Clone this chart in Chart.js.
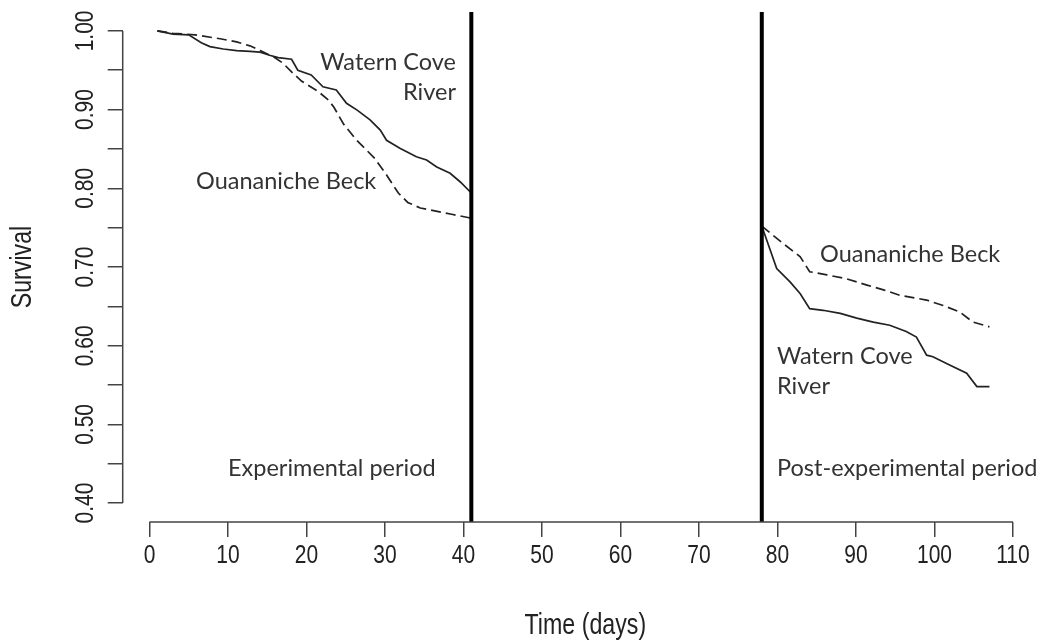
<!DOCTYPE html>
<html>
<head>
<meta charset="utf-8">
<script src="https://cdn.jsdelivr.net/npm/chart.js@4.4.1/dist/chart.umd.min.js"></script>
<style>html,body{margin:0;padding:0;background:#fff}</style>
</head>
<body>
<canvas id="grafik" width="1048" height="641"></canvas>
<script>
// Watern Cove River (garis penuh)
const hariWC1 = [1, 3, 5, 6.6, 7.7, 9.4, 11.1, 12.8, 14.1, 15.3, 16.4, 18.1, 18.9, 20.6, 22.1, 23.8, 25.1, 26.5, 28.1, 29.4, 30.2, 31.9, 34.0, 35.3, 36.6, 38.3, 39.6, 41];
const survWC1 = [1.000, 0.996, 0.995, 0.985, 0.980, 0.977, 0.975, 0.974, 0.973, 0.969, 0.966, 0.964, 0.950, 0.944, 0.929, 0.925, 0.908, 0.899, 0.887, 0.874, 0.861, 0.851, 0.840, 0.836, 0.827, 0.819, 0.808, 0.794];
const hariWC2 = [78, 79.9, 81.6, 82.9, 84.1, 85.8, 88.0, 90.1, 92.2, 94.3, 96.4, 97.7, 99.0, 99.8, 101.6, 104.1, 105.4, 107];
const survWC2 = [0.752, 0.698, 0.681, 0.666, 0.647, 0.645, 0.641, 0.635, 0.630, 0.626, 0.618, 0.611, 0.588, 0.586, 0.577, 0.565, 0.548, 0.548];

// Ouananiche Beck (garis putus)
const hariOB1 = [1, 3, 5.8, 9.0, 11.1, 12.8, 14.1, 15.8, 17.0, 18.3, 19.4, 21.5, 22.8, 23.5, 24.7, 26.3, 28.7, 30.2, 31.7, 32.9, 34.5, 36.5, 38.5, 41];
const survOB1 = [1.000, 0.997, 0.995, 0.990, 0.986, 0.981, 0.975, 0.967, 0.959, 0.946, 0.936, 0.923, 0.912, 0.903, 0.882, 0.862, 0.838, 0.817, 0.794, 0.782, 0.775, 0.771, 0.767, 0.762];
const hariOB2 = [78, 80.7, 82.9, 84.1, 86.3, 88.8, 91.4, 93.5, 95.6, 99.0, 101.1, 103.2, 104.9, 107];
const survOB2 = [0.752, 0.730, 0.713, 0.694, 0.690, 0.685, 0.677, 0.671, 0.664, 0.658, 0.651, 0.643, 0.630, 0.624];

const batasPeriode = [41, 78];
const tickX = [0, 10, 20, 30, 40, 50, 60, 70, 80, 90, 100, 110];
const tickY = [0.40, 0.45, 0.50, 0.55, 0.60, 0.65, 0.70, 0.75, 0.80, 0.85, 0.90, 0.95, 1.00];
const labelY = [0.40, 0.50, 0.60, 0.70, 0.80, 0.90, 1.00];

function titik(hari, surv) { return hari.map((h, i) => ({ x: h, y: surv[i] })); }

function tulis(ctx, teks, x, y, sudut, skalaX) {
    ctx.save(); ctx.translate(x, y); ctx.rotate(sudut); ctx.scale(skalaX, 1);
    ctx.fillText(teks, 0, 0); ctx.restore();
}

const hiasan = {
    id: 'hiasan',
    afterDatasetsDraw(chart) {
        const ctx = chart.ctx, xs = chart.scales.x, ys = chart.scales.y, area = chart.chartArea;
        ctx.save();
        // garis batas periode
        ctx.strokeStyle = '#000'; ctx.lineWidth = 4;
        batasPeriode.forEach(h => {
            const px = xs.getPixelForValue(h);
            ctx.beginPath(); ctx.moveTo(px, area.top); ctx.lineTo(px, area.bottom); ctx.stroke();
        });
        // garis sumbu gaya R
        ctx.strokeStyle = '#444'; ctx.lineWidth = 1.5;
        ctx.beginPath();
        ctx.moveTo(area.left, ys.getPixelForValue(tickY[0])); ctx.lineTo(area.left, ys.getPixelForValue(tickY.at(-1)));
        ctx.moveTo(xs.getPixelForValue(tickX[0]), area.bottom); ctx.lineTo(xs.getPixelForValue(tickX.at(-1)), area.bottom);
        ctx.stroke();
        // label sumbu
        ctx.fillStyle = '#222'; ctx.textAlign = 'center'; ctx.textBaseline = 'middle';
        ctx.font = '25px "Liberation Sans", Arial, sans-serif';
        tickX.forEach(v => tulis(ctx, String(v), xs.getPixelForValue(v), area.bottom + 34, 0, 0.84));
        labelY.forEach(v => tulis(ctx, v.toFixed(2), area.left - 37, ys.getPixelForValue(v), -Math.PI / 2, 0.84));
        ctx.font = '29px "Liberation Sans", Arial, sans-serif';
        tulis(ctx, 'Time (days)', (area.left + area.right) / 2, 626, 0, 0.8);
        tulis(ctx, 'Survival', 23, (area.top + area.bottom) / 2, -Math.PI / 2, 0.8);
        // keterangan
        ctx.fillStyle = '#333'; ctx.font = '23.5px Lato, "Open Sans", sans-serif';
        ctx.textAlign = 'right';
        ctx.fillText('Watern Cove', 456, 62);
        ctx.fillText('River', 456, 92);
        ctx.textAlign = 'left';
        ctx.fillText('Ouananiche Beck', 196, 181);
        ctx.fillText('Ouananiche Beck', 820, 254);
        ctx.fillText('Watern Cove', 777, 356);
        ctx.fillText('River', 777, 386);
        ctx.fillText('Experimental period', 228, 468);
        ctx.fillText('Post-experimental period', 777, 468);
        ctx.restore();
    }
};

const gayaGaris = { borderColor: '#222', borderWidth: 1.7, pointRadius: 0, tension: 0, fill: false };

new Chart(document.getElementById('grafik'), {
    type: 'line',
    data: {
        datasets: [
            { label: 'Watern Cove River', data: titik(hariWC1, survWC1), ...gayaGaris },
            { label: 'Watern Cove River', data: titik(hariWC2, survWC2), ...gayaGaris },
            { label: 'Ouananiche Beck', data: titik(hariOB1, survOB1), ...gayaGaris, borderDash: [10, 5] },
            { label: 'Ouananiche Beck', data: titik(hariOB2, survOB2), ...gayaGaris, borderDash: [10, 5] }
        ]
    },
    options: {
        responsive: false, animation: false, devicePixelRatio: 1,
        layout: { padding: { top: 12, right: 0, left: 0, bottom: 0 } },
        plugins: { legend: { display: false }, tooltip: { enabled: false } },
        scales: {
            x: {
                type: 'linear', min: -3.41, max: 114.46,
                afterBuildTicks: s => { s.ticks = tickX.map(v => ({ value: v })); },
                afterFit: s => { s.height = 119; },
                ticks: { display: false, autoSkip: false },
                grid: { drawOnChartArea: false, drawTicks: true, tickLength: 15, color: '#444', lineWidth: 1.5 },
                border: { display: false }
            },
            y: {
                type: 'linear', min: 0.376, max: 1.024,
                afterBuildTicks: s => { s.ticks = tickY.map(v => ({ value: v })); },
                afterFit: s => { s.width = 122.7; },
                ticks: { display: false, autoSkip: false },
                grid: { drawOnChartArea: false, drawTicks: true, tickLength: 15, color: '#444', lineWidth: 1.5 },
                border: { display: false }
            }
        }
    },
    plugins: [hiasan]
});
</script>
</body>
</html>
